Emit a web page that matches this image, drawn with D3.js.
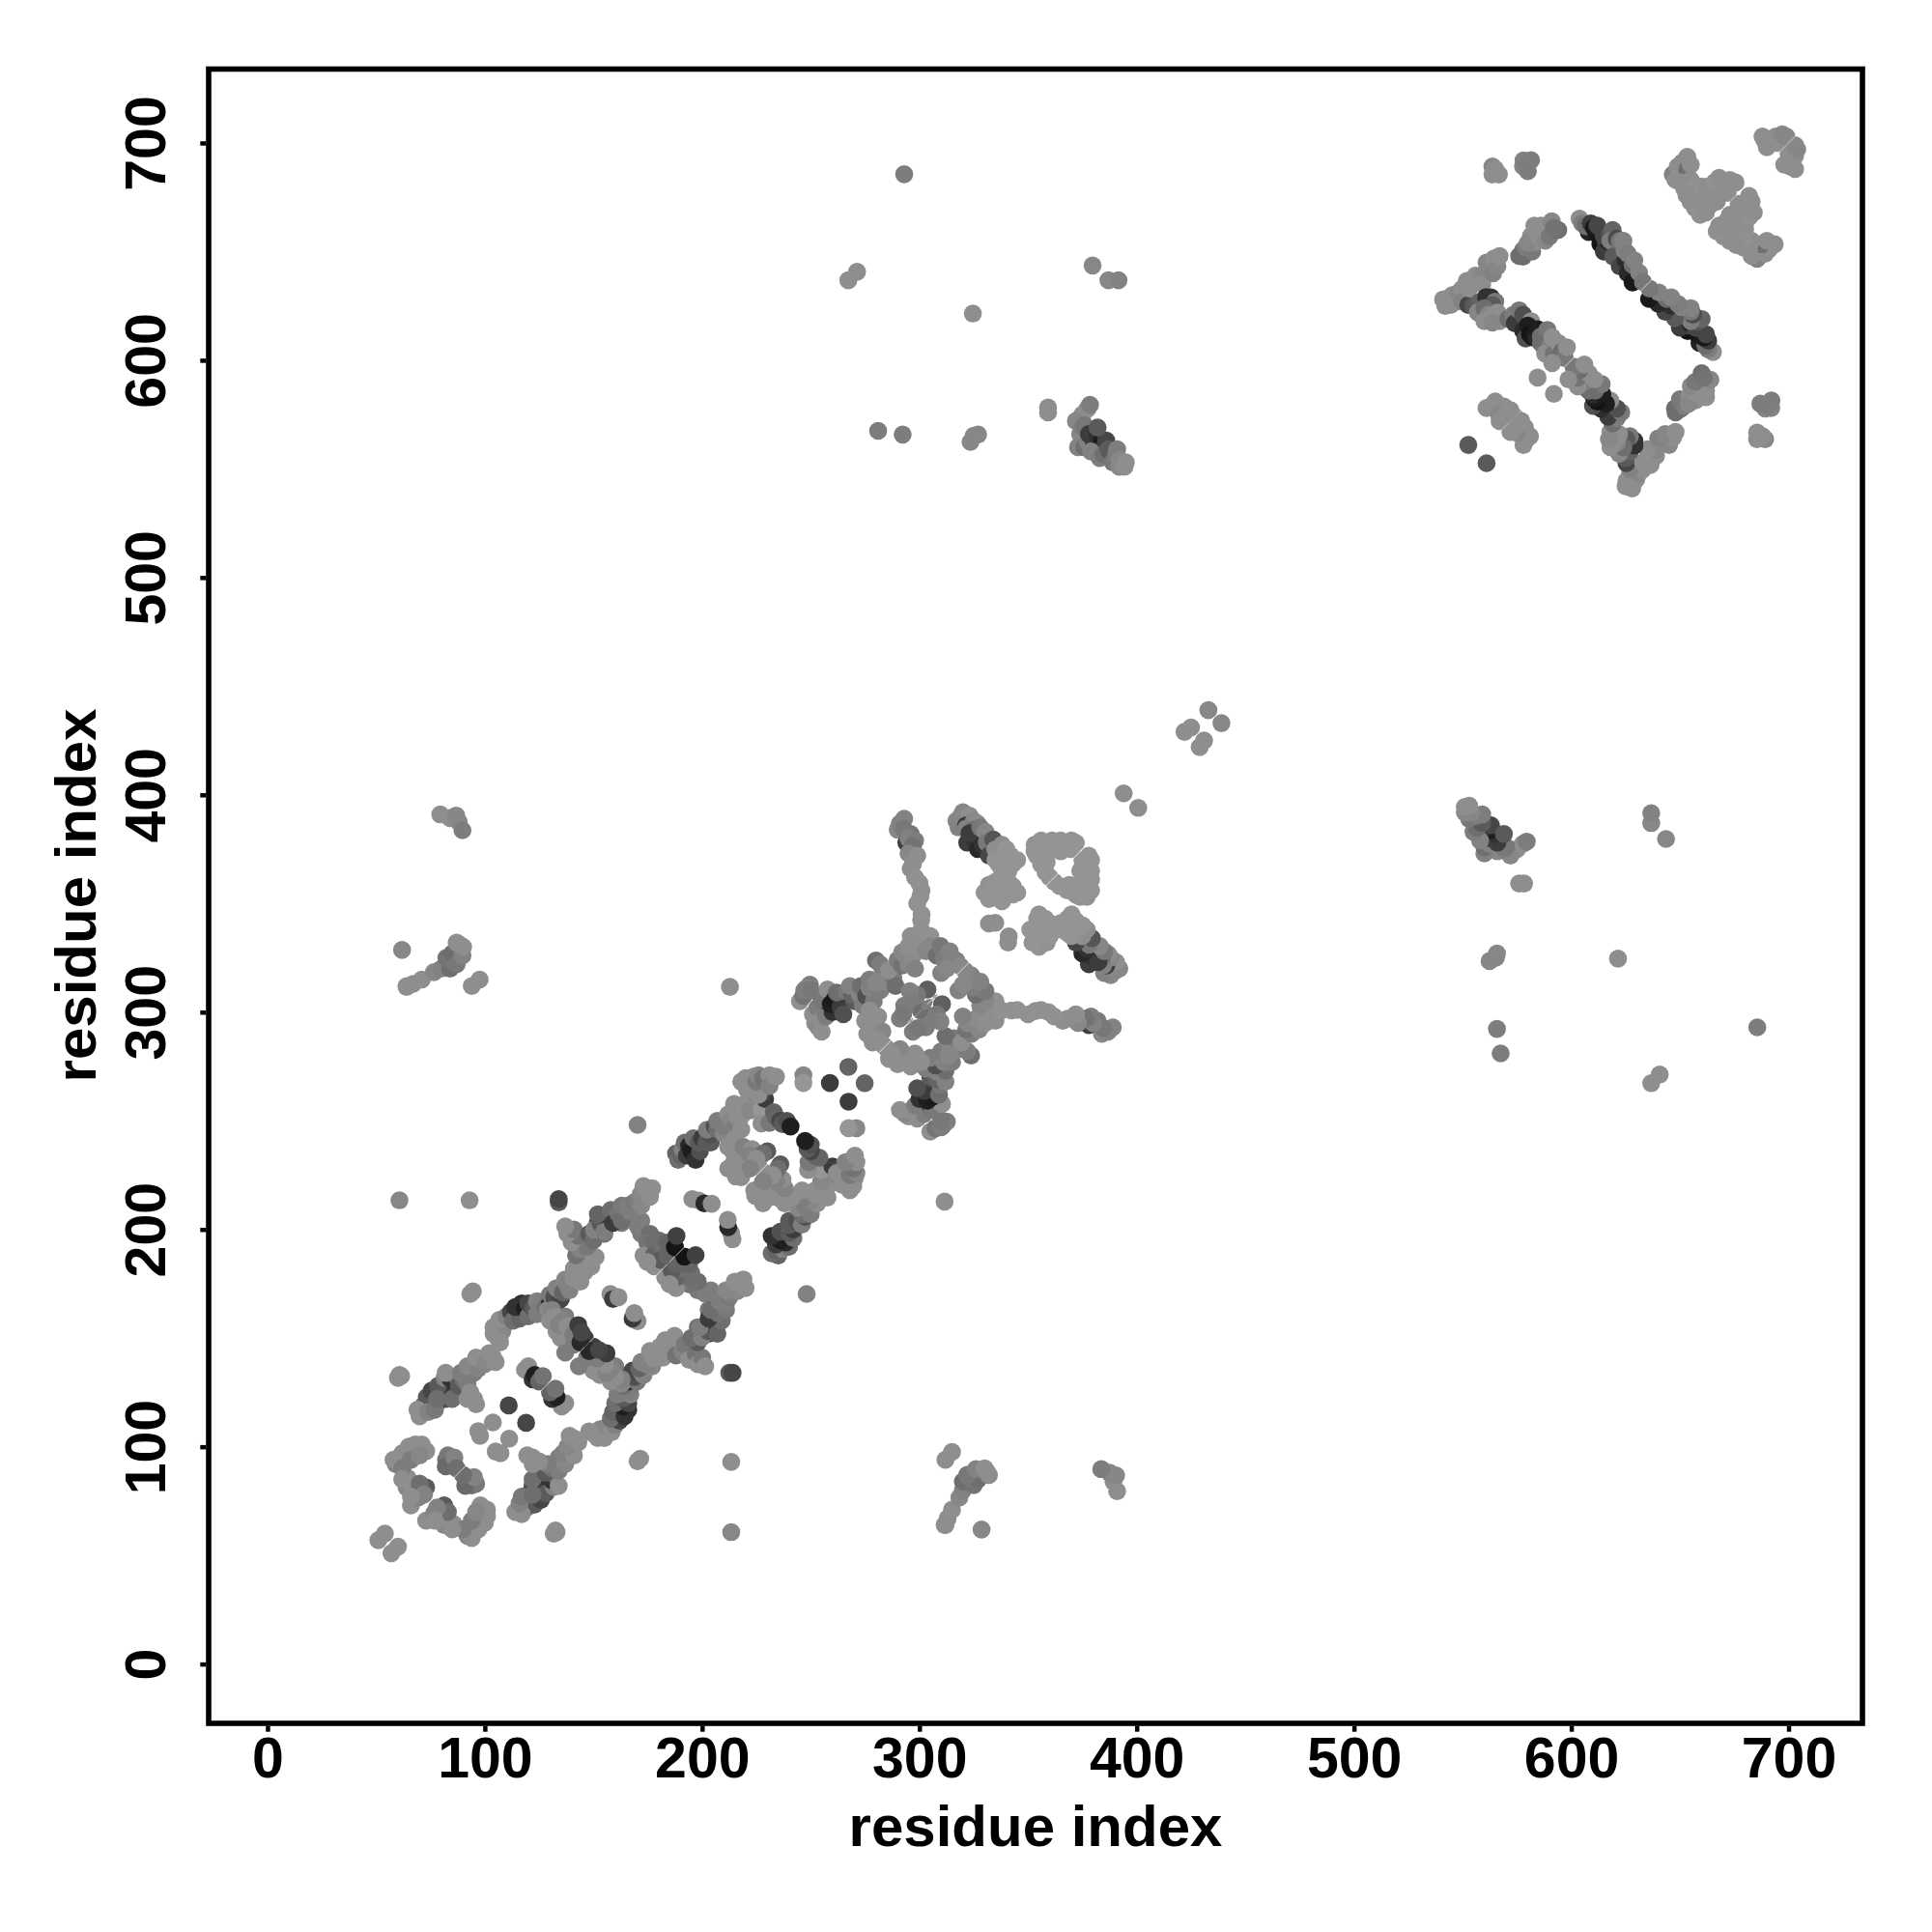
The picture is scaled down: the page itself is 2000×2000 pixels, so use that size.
<!DOCTYPE html>
<html><head><meta charset="utf-8"><script src="https://cdn.jsdelivr.net/npm/d3@7"></script>
<style>html,body{margin:0;padding:0;background:#fff}text{font-family:"Liberation Sans",Arial,sans-serif;font-weight:700;fill:#000}</style></head>
<body><svg id="c" width="2000" height="2000"></svg>
<script>
// [residue i, residue j, grey level]; each contact is also shown mirrored as [j, i]
const cellNearStart=[[54,60,142],[51,57,142],[59,92,130],[61.5,94,130],[63.7,96,135],[66.6,98.3,142],[69.6,99,142],[73,98,142],[64.4,85.7,142],[64,81.3,135],[68,79.8,130],[73,81.3,90],[66,73,142],[69.6,76.8,130],[82.2,94,110],[85.2,92.4,125],[60.7,133,142],[60,131.7,142],[61.5,132.5,142],[58,94,142],[62,97,142],[65,100,142],[68,101,142],[71,101,142],[62,90,125],[66,94,125],[70,96,135],[62,85,142],[66,83,142],[70,83,110],[72,78,130],[66,77,142],[83,96,120],[82,91,105],[86,95,130],[87,90,110]];
const chainNearStart=[[75,118,60],[78,120,70],[82,122,80],[86,125,60],[74,120,70],[76,122,50],[79,125,60],[81,127,40],[83,128,55],[71,115.4,142],[71.8,119,110],[73.3,122.8,90],[75.5,125.8,70],[78.5,128,90],[69,117,142],[70,114,142],[74,116,130],[77,117,120],[78,122,110],[85,122,110],[81.5,131.7,130],[84.4,131,50],[87.4,131.7,110],[91,134.7,130],[94,136.9,135],[97.8,139,142],[100.7,140.6,142],[103.7,141.3,142],[82,134,142],[88,128,90],[90,131,110],[92,129,125],[89,134,125],[95,134,125],[92,137,135],[97,136,130],[96,141,142],[100,138,135],[102,143,142],[105,139,142],[92,122,142],[95,122,142],[93.3,125,142],[96,119.5,142],[111,119,70],[103.7,111.2,142],[97,107.2,142],[97.8,105,142],[118.5,135.4,142],[120,137,142],[122,131,50],[123,133,30],[125,130,100],[126.7,132.5,115]];
const cellFirstBranch=[[106,150,142],[108,153,135],[104,152,142],[104,155,142],[107,148,142],[109,156,135],[106.7,158.4,142],[110,160,130],[112,162,70],[113,158,110],[116,159,100],[114,164.3,50],[117,166,50],[118.5,163.6,30],[120,160,110],[120,166,70],[122.3,163.6,90],[124,167,130],[124,161,125],[126,166.6,125],[128,164,110],[130,166,40],[130,170,120],[129,163,135],[133,166,60],[132,168.8,80],[135,168,70],[134.8,171.7,120],[133,173,130],[136,171,100],[137,177,135],[139,172,130],[137.8,174.7,130],[94.5,171.5,142],[93.3,170.3,142],[130,158,142],[131,163,130],[133,153,142],[135,150,142],[137,160,125],[132,160,142],[134,156,130],[136,158,130],[141,155,130],[139,150,142],[138,155.4,142],[140.7,151.7,125],[141,147,125],[143,156,60],[146,150,60],[144,148,40],[144.5,152.5,70],[137,143.3,125],[157.8,170.3,142],[159,168,60],[161.5,168.8,142]];
const cellVerticalLink=[[140.7,177.7,142],[144,176,142],[146,180.6,142],[144.5,183.6,142],[141,182,142],[143,185,142],[149,183,142],[146.7,186.6,142],[151,187.3,142],[148,187.3,142],[145,195.5,130],[142,188,115],[143.7,191,130],[147,192,120],[140,194,142],[143,197,115],[138,198,142],[141,200,120],[137,201.4,142],[148,198,90],[150,195,110],[151,200,100],[155,198,110],[152,203,70],[154,201.4,45],[157,202.9,90],[159,205,110],[163,203,125],[161.5,205.8,130],[164,208,130],[166,208.8,135],[168,205,135],[172,198,120],[172,204,125],[170.4,201.4,125],[176,198,110],[174.8,194,115],[176,190,120],[179,186,125],[173,188,142],[177.8,194,110],[177.8,188,100],[178,183,142],[180,195,110],[182,191,110],[181,186,90],[184,194,100],[184,188,100],[174.8,185,142],[187.5,191.8,20],[188.2,197,65],[134,212.5,90],[134,214,70]];
const cellSecondBranch=[[150.3,199.9,130],[153.2,202.9,90],[156.2,205,50],[152,207,100],[155,199,125],[158,209,110],[159,203,60],[161.4,207.3,115],[163,204,110],[163,211,120],[167,208,125],[165.8,211,125],[168.8,212.5,120],[170,213,125],[172,211,135],[171.7,216.2,135],[174.7,218.4,142],[173,220,142],[176,215,142],[177,219,142],[170.3,248.1,130],[195.5,214,142],[198.4,213.3,142],[201,212,40],[204.4,211.8,142],[188,235,100],[189,232,110],[190.3,234,100],[191,237,130],[192,240,110],[193,234,60],[194,238.5,40],[195,236,30],[197,232,50],[196,242,110],[199,236,80],[198.4,240,90],[200,242,60],[202,240,90],[204,240,90],[203.6,243.7,80],[202.2,245.9,125],[205.8,247.4,80],[207,246,110],[207,250,125],[210,244,135],[210.3,247.4,125],[212,253,142],[213.2,250.3,135],[215,247,125],[216.2,251.8,142],[218,252,142],[214.7,257.7,142],[220,258,142],[224,258,142],[219,256,142],[222.1,254.8,135],[227.3,254.8,150],[227.3,248.8,142],[218,246,142],[214.7,241.4,142],[212,238,142],[214,236,142],[217.7,234,142],[219,238,130],[214.7,231,142],[223,237,142],[222,234,130],[230,236,90],[228,234.8,110],[219,228,142],[226,229,142],[225,232.5,142],[212,228,142],[218,224,142],[222,228,130],[215.5,224.4,142],[229,260,60],[224,263,125],[228,263,70],[220,269.6,142],[223.6,270.3,142],[220.6,264.4,142],[226,262,142],[218,268,142],[222,266,142],[225,268,120],[226,271,135],[228,269.6,115],[231,271,142],[231,266,130],[234,270.3,142],[246.6,271,135],[246.6,267.4,150],[258.8,267.4,60],[267.3,274.8,100],[231,249,120],[233,254,100],[234,251.8,100],[236,250,70],[237,248.5,90],[239,250,80],[240.7,247.4,30]];
const cellThirdBranch=[[245,305,142],[246.6,307.4,115],[249.6,312.6,125],[248,311,130],[247,310,125],[250,310,120],[254,293.4,142],[252,295,142],[251,299,142],[253.3,293.3,135],[253,302,125],[254.8,296.3,142],[255,291,142],[257,298,125],[256.2,300.7,125],[257,305,60],[260,300,50],[255,306,120],[257.7,310.4,142],[259.2,303.7,30],[261,306,25],[263.6,305.2,35],[263.7,302.3,60],[265,299,80],[262,309,110],[266.6,309.6,120],[270,305,90],[269,308,100],[268,312,130],[272.6,308,130],[274,303,125],[273,312,110],[277,308,115],[275.5,307.4,80],[279,305,125],[277,311.2,130],[282,310,125],[277,315,125],[280,313.4,135],[280,323.8,110],[284,314,135],[283,317.8,135],[282,322,125],[288,316,120],[289,312,110],[286,319.3,142],[290,324,125],[292,321.5,115],[292,327.5,135],[295,322,135],[297,326,140],[298,320,130],[295,330.4,142],[296,335,142],[300.8,331.9,142],[303,328,135],[305,335,145],[300.8,337.8,145],[300.8,342.3,145],[305.2,330.4,135],[308,326,110],[309.7,330.4,120],[311.2,324.5,125],[310,318,130],[314,328,130],[314,322,130],[317,323.8,130],[319,321,135],[312.6,320,135],[275,296,142],[277,300.8,142],[278.5,296.3,142],[281,298,142],[280,293,142],[283,291.1,135],[276,290,142],[278.5,286,142],[281,287,142],[283.7,284.5,142],[303.7,310.4,95],[299,308,120],[295.6,309.7,130],[296.3,305.2,125],[293,303,125],[291,297,125],[292.6,299.3,120],[309.7,304.5,105],[300,302,125],[301,300,110],[305,302,125],[302.3,296.3,125],[298.5,293.4,110],[306,299.3,142],[309.7,296.3,135]];
const cellLoop=[[290,384,135],[291,386.8,130],[293,389,130],[292.6,384.5,120],[294,378,60],[296,382,120],[294.9,380,130],[298,379,125],[297,376.4,115],[295,373,135],[299,372,142],[297,368.2,142],[296,366,142],[298,362,145],[300,359.4,145],[301,356,145],[300.5,353.4,145],[299,350,145],[301,345,145],[317,388,135],[318,385,130],[319.3,390.5,135],[320,392,135],[323,390.5,142],[321.5,386,60],[325,388,135],[321.5,384.5,130],[322,378,60],[326.7,386.8,140],[325,384,110],[325,380,50],[323,382.3,60],[328,385,120],[327,375,40],[329,377,50],[330.4,383,135],[331,378,120],[332,372,70],[334,379.4,85],[334.9,374.9,142],[335,370,148],[338,377,142],[338.6,373.4,145],[340,375,148],[340.8,370.5,148],[342,372,148],[343,368.2,148],[345,370,148],[336.4,368.2,148],[338,365,148],[341,365,148],[330,355,148],[333,353,148],[332,358.6,145],[335,360,148],[336.4,357.9,148],[336.4,353.4,148],[338,351,148],[340,354,148],[341,360,148],[343,357.9,148],[343,354.2,148],[345,355,148],[334,354,148],[339,356,148],[332,352,148],[332,340.8,142],[334.9,341.1,142],[353,377,148],[354,372,148],[355,377.9,142],[356,379,148],[358.6,377.9,148],[358.6,373.4,148],[353,374,148],[361,379,148],[358.6,369,148],[356,368,148],[358,364.5,148],[360,362,148],[363,377.9,148],[365,374,148],[365,379,148],[368.2,377.9,148],[370,375,148],[370,379,148],[372,377.9,148],[394,400.7,142],[422,429,142],[425,431,142],[433,439,135]];
const offDiagonalLow=[[79.5,391,142],[84,389.3,142],[86.8,390.5,135],[88,387.6,135],[89.7,383.7,125],[61.9,328.6,135],[64,311.6,142],[64,312,142],[67,313,142],[71,315,142],[76.6,318.4,135],[80,320,130],[84,320,110],[82.3,325,115],[85,324,120],[85,327,110],[87,322,120],[88.5,331,142],[89.7,326,130],[90,330,142],[87,332,142],[94,312,142],[97.6,315,142],[60.7,213.4,135],[93,213.4,142],[212.8,311.6,142],[293,685.6,125],[267.3,636.8,142],[271.3,640.7,142],[324.6,621.5,142],[379.7,643.6,135],[387,636.8,135],[391.6,636.8,130],[281,567.5,125],[292.3,565.8,125],[323.5,562.4,135],[325,565.3,135],[327,565.8,135],[359.2,578.3,142],[359.2,576,142],[377.4,577.7,142],[375,575,142],[378.5,579.5,125],[372,572,135],[374,566,135],[375,569,125],[373,560,130],[376,560,110],[376,570,120],[377.4,562.4,130],[380,563,70],[378,566,60],[382,565.3,50],[381,559,70],[383.6,562.4,30],[385,560,50],[386,563,70],[379,558,130],[383,555,125],[384.8,556.7,110],[388,558,80],[387,559,90],[382,569,90],[389,553,120],[390.5,556.7,125],[391,559,125],[392,554,135],[392,551,135],[395,553,142],[394.4,551,142]];
const cellTopRight=[[563.7,689.2,135],[565,688,142],[566.7,685.5,142],[563.7,685.5,142],[577.8,689.2,135],[580,687,125],[578,692,130],[579,690,125],[581.5,692.1,125],[577.8,650.6,115],[577.8,647.7,110],[576,648,110],[579,652,125],[582,650,120],[581.5,657.3,142],[583,654.3,142],[580,654,135],[583.8,659.5,142],[585,657,142],[586.7,660.3,142],[586,662,142],[583,662,142],[588,655,135],[589,658,142],[590,657,120],[591,664,135],[594,660,110],[591.9,661,115],[603.8,665.2,142],[605,663,125],[608,659,35],[606.7,661.7,110],[609,663,60],[610.4,661,25],[612,658,25],[612,662,70],[613.4,653.6,20],[616,654,70],[615,650,60],[617,655,30],[614.9,657.3,70],[617.8,658,85],[620,652,45],[619,660,100],[618,655,125],[619.3,647.7,90],[621,656,75],[622.3,643.2,70],[622.3,655,120],[625,646,45],[624,655,130],[624.5,650.6,130],[626,640,40],[626,649,125],[630,637,25],[628.2,635.8,25],[628.2,643.9,110],[629,646,130],[631.2,640.3,130],[633,636,120]];
const cellTopRightLeft=[[541,628,142],[542,625,142],[543,628.4,142],[544.5,625.4,142],[545.2,629.9,142],[547,627,142],[548,631,135],[549.7,632.8,142],[550,627,130],[552.6,625.4,70],[551.9,636.5,142],[553,633,142],[555,625,90],[555.6,635.8,142],[556,639,142],[558.6,638.8,135],[558,627,100],[559,635,142],[561.5,642.5,135],[561,645,135],[564,640,130],[564.5,646.9,142],[566,643.2,135],[567,648,142],[560.8,629.1,50],[563,629,50],[565,627,120],[563.7,625.4,90],[557,622,135],[560,624,110],[562,621,135],[566,622,142],[564.5,621,142],[560,618,142],[567,618,142],[563.7,617.3,135],[571,619,110],[573.4,621,125],[574,617,60],[576,623,120],[577.8,621,80],[577.8,613.6,45],[579,610,80],[581.5,618,142],[580,616,30],[581,612,20],[582.3,610.6,25],[584,610,40],[584.5,614.3,30],[586,611,110],[589,614,120],[587.5,606.1,110],[586,608,110],[590,606,125],[588,603,142],[592,603,115],[591.2,610.6,142],[594,608,142],[595.6,603.9,110],[597,601,120],[598,606,142],[591.2,598.7,142],[584.5,592,142],[552.6,561,90],[561,578,142],[563.7,579.4,142],[565,581,142],[569,578.7,142],[566.7,575,135],[567,572,142],[570,575,142],[572,577,142],[574,574,142]];
const cellFarCorner=[[646.7,685.5,130],[648,683,142],[649,689.2,142],[651,685,142],[651,691,142],[653.4,687.7,110],[655,690,142],[653.4,693.6,142],[650.5,681.8,142],[652,679,142],[655,683,142],[653,676,142],[656.4,679.5,145],[655,676,142],[658,675,142],[654.9,672.9,142],[657,670,142],[659.3,666.9,145],[662,668,142],[661,672,142],[660.8,675.8,142],[660,680,145],[663.8,671.4,142],[665,676,142],[667,673,142],[663,680,142],[666,682,145],[668,684,142],[669.7,677.3,142],[671.2,681,142],[672,677,142],[673,683,142],[675.6,681.8,142],[688,703,142],[689,701,142],[690,698,142],[692.7,700.3,142],[694,703,142],[695,700,142],[697.1,704,135],[699,703,135]];
const xTicks=[0,100,200,300,400,500,600,700];
const yTicks=[0,100,200,300,400,500,600,700];
const axisTitle="residue index";

const svg=d3.select("#c");
const x=d3.scaleLinear().domain([-27.1,734]).range([216,1928]);
const y=d3.scaleLinear().domain([-27.3,734]).range([1784,71.5]);
const contacts=[cellNearStart,chainNearStart,cellFirstBranch,cellVerticalLink,cellSecondBranch,cellThirdBranch,cellLoop,offDiagonalLow,cellTopRight,cellTopRightLeft,cellFarCorner].flat();
const gap=0.35, d0=-27.1, d1=734;
const defs=svg.append("defs");
defs.append("clipPath").attr("id","upper").append("polygon")
  .attr("points",[[x(d0),y(d1)],[x(d1)-gap,y(d1)],[x(d0),y(d0)-gap]].map(p=>p.join(",")).join(" "));
defs.append("clipPath").attr("id","lower").append("polygon")
  .attr("points",[[x(d1),y(d0)],[x(d1),y(d1)+gap],[x(d0)+gap,y(d0)]].map(p=>p.join(",")).join(" "));
const col=g=>d3.rgb(g,g,g).formatHex();
svg.append("g").attr("clip-path","url(#upper)").selectAll("circle").data(contacts).join("circle")
  .attr("cx",d=>x(d[0])).attr("cy",d=>y(d[1])).attr("r",9.3).attr("fill",d=>col(d[2]));
svg.append("g").attr("clip-path","url(#lower)").selectAll("circle").data(contacts).join("circle")
  .attr("cx",d=>x(d[1])).attr("cy",d=>y(d[0])).attr("r",9.3).attr("fill",d=>col(d[2]));
svg.append("rect").attr("x",216).attr("y",71.5).attr("width",1712).attr("height",1712.5)
  .attr("fill","none").attr("stroke","#000").attr("stroke-width",5.6);
const ax=svg.append("g").attr("transform","translate(0,1786.7)")
  .call(d3.axisBottom(x).tickValues(xTicks).tickSize(6).tickPadding(9).tickFormat(d3.format("d")));
const ay=svg.append("g").attr("transform","translate(213.3,0)")
  .call(d3.axisLeft(y).tickValues(yTicks).tickSize(6).tickPadding(0).tickFormat(d3.format("d")));
[ax,ay].forEach(a=>{a.select(".domain").remove();a.selectAll("line").attr("stroke","#000").attr("stroke-width",4.5);
  a.selectAll("text").attr("font-size",59).style("font-family",'"Liberation Sans",Arial,sans-serif').style("font-weight",700).attr("fill","#000");});
ax.selectAll("text").attr("dy",null).attr("y",1840-1786.7);
ay.selectAll("text").attr("x",null).attr("dy",null).attr("text-anchor","middle")
  .attr("transform",`translate(${171-213.3},0) rotate(-90)`);
svg.append("text").attr("x",1072).attr("y",1911).attr("text-anchor","middle").attr("font-size",60).text(axisTitle);
svg.append("text").attr("transform","translate(99,927) rotate(-90)").attr("text-anchor","middle").attr("font-size",60).text(axisTitle);
</script></body></html>
